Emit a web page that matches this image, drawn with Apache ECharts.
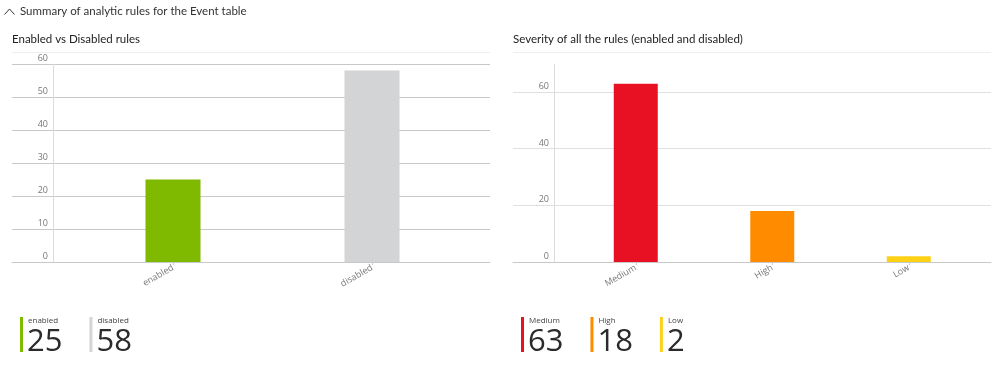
<!DOCTYPE html>
<html>
<head>
<meta charset="utf-8">
<script src="https://cdn.jsdelivr.net/npm/echarts@6/dist/echarts.min.js"></script>
<style>
html,body{margin:0;padding:0;background:#fff;}
#chart{width:999px;height:367px;}
</style>
</head>
<body>
<div id="chart"></div>
<script>
const mainTitle = 'Summary of analytic rules for the Event table';
const leftTitle = 'Enabled vs Disabled rules';
const rightTitle = 'Severity of all the rules (enabled and disabled)';

const statusCats = ['enabled', 'disabled'];
const statusValues = [25, 58];
const statusColors = ['#7fba00', '#d3d4d6'];

const severityCats = ['Medium', 'High', 'Low'];
const severityValues = [63, 18, 2];
const severityColors = ['#e81123', '#ff8c00', '#fcd116'];

const leftAxis = { min: 0, max: 60, interval: 10 };
const rightAxis = { min: 0, max: 60, interval: 20, barMax: 70 };

const FONT = '"Open Sans", "Noto Sans", sans-serif';
const TITLE_FONT = 'Lato, "Open Sans", sans-serif';

const chart = echarts.init(document.getElementById('chart'), null, { renderer: 'canvas' });

function measure(text, size, weight) {
  const c = document.createElement('canvas').getContext('2d');
  c.font = weight + ' ' + size + 'px ' + FONT;
  return c.measureText(text).width;
}

function tiles(cats, vals, colors, startX) {
  const out = [];
  let x = startX;
  cats.forEach((name, i) => {
    const num = String(vals[i]);
    out.push({
      type: 'rect', left: x, top: 317, shape: { width: 3, height: 35 },
      style: { fill: colors[i] }, silent: true
    });
    out.push({
      type: 'text', left: x + 8, top: 317,
      style: { text: name, fontSize: 8, fill: '#444', fontFamily: FONT }, silent: true
    });
    out.push({
      type: 'text', left: x + 7, top: 327,
      style: { text: num, fontSize: 31, fontWeight: 400, fill: '#2b2b2b', fontFamily: FONT }, silent: true
    });
    x += 8 + measure(num, 31, 400) + 26;
  });
  return out;
}

const labelStyle = { fontSize: 9, color: '#777', fontFamily: FONT };

const option = {
  animation: false,
  title: [
    { text: mainTitle, left: 20, top: 5, padding: 0, textStyle: { fontSize: 11.5, fontWeight: 'normal', color: '#333', fontFamily: TITLE_FONT } },
    { text: leftTitle, left: 12, top: 33, padding: 0, textStyle: { fontSize: 11.5, fontWeight: 'normal', color: '#222', fontFamily: TITLE_FONT } },
    { text: rightTitle, left: 513, top: 33, padding: 0, textStyle: { fontSize: 11.5, fontWeight: 'normal', color: '#222', fontFamily: TITLE_FONT } }
  ],
  grid: [
    { left: 12, right: 509, top: 64, bottom: 105 },
    { left: 73.5, right: 527.5, top: 64, bottom: 105 },
    { left: 513, right: 8, top: 92, bottom: 105 },
    { left: 567.5, right: 22, top: 64, bottom: 105 }
  ],
  xAxis: [
    { gridIndex: 0, type: 'category', data: statusCats, axisLabel: { show: false }, axisTick: { show: false },
      axisLine: { show: true, lineStyle: { color: '#c8c8c8' } } },
    { gridIndex: 1, type: 'category', data: statusCats, axisLine: { show: false },
      axisTick: { show: true, alignWithLabel: true, length: 3, lineStyle: { color: '#ccc' } },
      axisLabel: Object.assign({ rotate: 30, margin: 5 }, labelStyle) },
    { gridIndex: 2, type: 'category', data: severityCats, axisLabel: { show: false }, axisTick: { show: false },
      axisLine: { show: true, lineStyle: { color: '#c8c8c8' } } },
    { gridIndex: 3, type: 'category', data: severityCats, axisLine: { show: false },
      axisTick: { show: true, alignWithLabel: true, length: 3, lineStyle: { color: '#ccc' } },
      axisLabel: Object.assign({ rotate: 30, margin: 5 }, labelStyle) }
  ],
  yAxis: [
    { gridIndex: 0, type: 'value', min: leftAxis.min, max: leftAxis.max, interval: leftAxis.interval, offset: -41,
      axisLine: { show: true, lineStyle: { color: '#dcdcdc' } }, axisTick: { show: false },
      splitLine: { lineStyle: { color: '#c8c8c8' } },
      axisLabel: Object.assign({ margin: 5, verticalAlign: 'bottom', padding: [0, 0, 1, 0] }, labelStyle) },
    { gridIndex: 1, type: 'value', min: leftAxis.min, max: leftAxis.max, show: false, splitLine: { show: false } },
    { gridIndex: 2, type: 'value', min: rightAxis.min, max: rightAxis.max, interval: rightAxis.interval, offset: -41,
      axisLine: { show: false }, axisTick: { show: false },
      splitLine: { lineStyle: { color: '#e0e0e0' } },
      axisLabel: Object.assign({ margin: 5, verticalAlign: 'bottom', padding: [0, 0, 1, 0] }, labelStyle) },
    { gridIndex: 3, type: 'value', min: rightAxis.min, max: rightAxis.barMax, offset: 13.5,
      axisLine: { show: true, lineStyle: { color: '#dcdcdc' } }, axisTick: { show: false },
      axisLabel: { show: false }, splitLine: { show: false } }
  ],
  series: [
    { type: 'bar', xAxisIndex: 1, yAxisIndex: 1, barWidth: 55,
      data: statusValues.map((v, i) => ({ value: v, itemStyle: { color: statusColors[i] } })) },
    { type: 'bar', xAxisIndex: 3, yAxisIndex: 3, barWidth: 44,
      data: severityValues.map((v, i) => ({ value: v, itemStyle: { color: severityColors[i] } })) }
  ],
  graphic: [
    { type: 'polyline', shape: { points: [[4.5, 14.5], [9.5, 9], [14.5, 14.5]] },
      style: { stroke: '#333', lineWidth: 1, fill: null }, silent: true },
    { type: 'line', shape: { x1: 12, y1: 52.5, x2: 490, y2: 52.5 }, style: { stroke: '#eeeeee', lineWidth: 1 }, silent: true },
    { type: 'line', shape: { x1: 513, y1: 52.5, x2: 991, y2: 52.5 }, style: { stroke: '#eeeeee', lineWidth: 1 }, silent: true }
  ].concat(tiles(statusCats, statusValues, statusColors, 20))
   .concat(tiles(severityCats, severityValues, severityColors, 521))
};

chart.setOption(option);
</script>
</body>
</html>
